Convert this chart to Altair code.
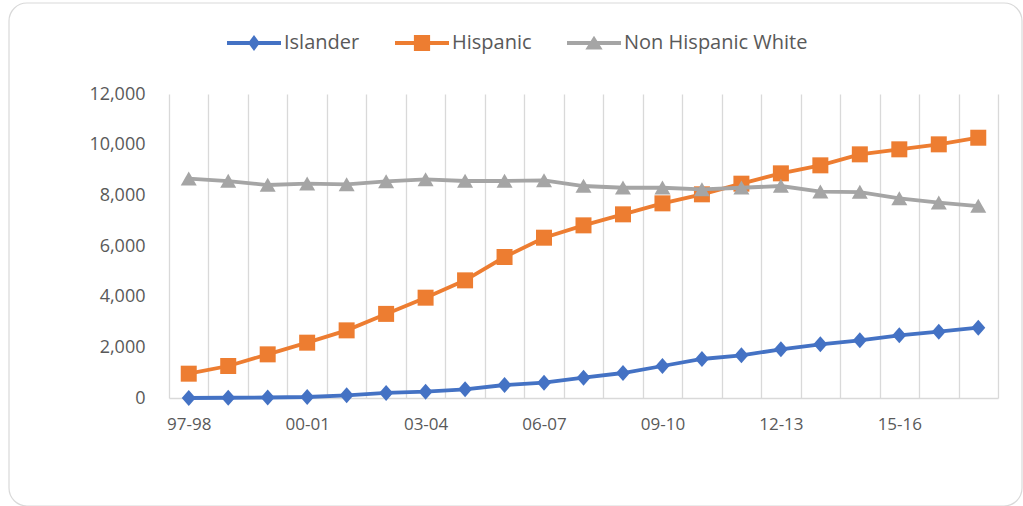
import altair as alt
import pandas as pd

# School years on the category axis
periods = ["97-98", "98-99", "99-00", "00-01", "01-02", "02-03", "03-04",
           "04-05", "05-06", "06-07", "07-08", "08-09", "09-10", "10-11",
           "11-12", "12-13", "13-14", "14-15", "15-16", "16-17", "17-18"]
shown_labels = ["97-98", "00-01", "03-04", "06-07", "09-10", "12-13", "15-16"]

islander = [0, 10, 20, 40, 105, 200, 250, 342, 513, 605, 803, 987, 1263,
            1540, 1684, 1921, 2118, 2276, 2474, 2618, 2776]
hispanic = [960, 1263, 1723, 2184, 2670, 3320, 3960, 4644, 5565, 6328, 6815,
            7250, 7684, 8040, 8460, 8868, 9184, 9618, 9816, 10013, 10274]
non_hispanic_white = [8657, 8565, 8407, 8460, 8434, 8550, 8630, 8565, 8565,
                      8590, 8368, 8300, 8300, 8237, 8300, 8368, 8144, 8130,
                      7880, 7710, 7578]

series_names = ["Islander", "Hispanic", "Non Hispanic White"]
series_colors = ["#4472C4", "#ED7D31", "#A5A5A5"]
y_ticks = [0, 2000, 4000, 6000, 8000, 10000, 12000]

# Marker outlines (unit box) and legend glyphs: a line segment with the marker on it
marker_paths = [
    "M0,-1L0.875,0L0,1L-0.875,0Z",
    "M-1,-1H1V1H-1Z",
    "M0,-0.9L1,0.85L-1,0.85Z",
]
legend_paths = [
    "M-1,-0.075H1V0.075H-1Z M0,-0.3L0.22,0L0,0.3L-0.22,0Z",
    "M-1,-0.075H1V0.075H-1Z M-0.3,-0.3H0.3V0.3H-0.3Z",
    "M-1,-0.075H1V0.075H-1Z M0,-0.27L0.32,0.24L-0.32,0.24Z",
]

rows = []
for name, values in zip(series_names, [islander, hispanic, non_hispanic_white]):
    for p, v in zip(periods, values):
        rows.append({"period": p, "series": name, "value": v})
df = pd.DataFrame(rows)

FONT = "Open Sans"
TEXT = "#595959"
GRID = "#D9D9D9"

label_list = "[" + ",".join(f"'{s}'" for s in shown_labels) + "]"

x_enc = alt.X(
    "period:N",
    sort=periods,
    bandPosition=0.5,
    scale=alt.Scale(type="band", paddingInner=0, paddingOuter=0),
    axis=alt.Axis(
        title=None,
        tickBand="extent",
        grid=True,
        gridColor=GRID,
        gridWidth=1.3,
        domain=True,
        domainColor=GRID,
        domainWidth=1.3,
        ticks=False,
        labelAngle=0,
        labelOverlap=False,
        labelExpr=f"indexof({label_list}, datum.value) >= 0 ? datum.label : ''",
        labelFont=FONT,
        labelFontSize=17,
        labelColor=TEXT,
        labelPadding=18,
    ),
)
y_enc = alt.Y(
    "value:Q",
    scale=alt.Scale(domain=[0, 12000]),
    axis=alt.Axis(
        title=None,
        values=y_ticks,
        format=",.0f",
        grid=False,
        domain=False,
        ticks=False,
        labelFont=FONT,
        labelFontSize=18,
        labelColor=TEXT,
        labelPadding=24,
    ),
)

frame = alt.Chart(pd.DataFrame({"k": [0]})).mark_rect(
    filled=False, stroke=GRID, strokeWidth=1.2, cornerRadius=18
).encode(
    x=alt.value(-160), x2=alt.value(853), y=alt.value(-91), y2=alt.value(412)
)

# One line + marker layer per series, drawn in series order
series_layers = []
for name, col, path in zip(series_names, series_colors, marker_paths):
    base = alt.Chart(df).transform_filter(alt.datum.series == name)
    series_layers.append(
        base.mark_line(strokeWidth=3.8, color=col).encode(x=x_enc, y=y_enc)
    )
    series_layers.append(
        base.mark_point(filled=True, opacity=1, size=256, strokeWidth=0,
                        shape=path, color=col).encode(x=x_enc, y=y_enc)
    )

legend_props = dict(
    orient="none",
    legendX=58,
    legendY=-78,
    direction="horizontal",
    title=None,
    symbolSize=2916,
    symbolStrokeWidth=0,
    labelFont=FONT,
    labelFontSize=20,
    labelLimit=400,
    labelColor=TEXT,
    labelOffset=3,
    columnPadding=35,
    padding=0,
)

legend_layer = alt.Chart(df).transform_filter("false").mark_point(
    filled=True, opacity=1
).encode(
    x=x_enc,
    y=y_enc,
    color=alt.Color("series:N",
                    scale=alt.Scale(domain=series_names, range=series_colors),
                    legend=alt.Legend(**legend_props)),
    shape=alt.Shape("series:N",
                    scale=alt.Scale(domain=series_names, range=legend_paths),
                    legend=alt.Legend(**legend_props)),
)

chart = alt.layer(frame, *series_layers, legend_layer).properties(
    width=829,
    height=304,
    padding={"left": 8, "top": 2, "right": 0, "bottom": 0},
    background="white",
).configure_view(strokeWidth=0)

chart.save("out.html", embed_options={"renderer": "svg", "actions": False})
